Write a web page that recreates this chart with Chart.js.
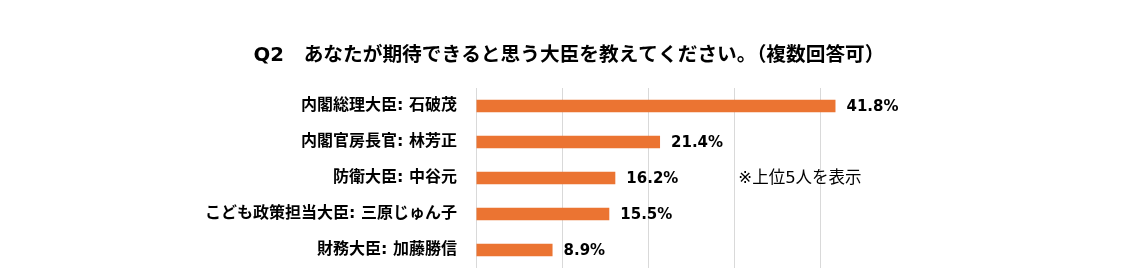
<!DOCTYPE html>
<html lang="ja">
<head>
<meta charset="utf-8">
<script src="https://cdn.jsdelivr.net/npm/chart.js@4"></script>
<style>
  html, body { margin: 0; padding: 0; background: #fff; }
  #wrap { width: 1136px; height: 268px; }
</style>
</head>
<body>
<div id="wrap"><canvas id="grafico"></canvas></div>
<script>
// Datos del gráfico
const titulo = 'Q2\u3000あなたが期待できると思う大臣を教えてください。（複数回答可）';
const categorias = ['内閣総理大臣: 石破茂', '内閣官房長官: 林芳正', '防衛大臣: 中谷元', 'こども政策担当大臣: 三原じゅん子', '財務大臣: 加藤勝信'];
const valores = [41.8, 21.4, 16.2, 15.5, 8.9];
const etiquetas = ['41.8%', '21.4%', '16.2%', '15.5%', '8.9%'];
const nota = '※上位5人を表示';

const fuente = '"DejaVu Sans", "Noto Sans CJK JP", sans-serif';

// Título centrado en todo el ancho, etiquetas de valor y nota
const pluginTextos = {
  id: 'textos',
  afterDatasetsDraw(chart) {
    const ctx = chart.ctx;
    const meta = chart.getDatasetMeta(0);
    ctx.save();
    ctx.fillStyle = '#000';
    ctx.textBaseline = 'middle';

    ctx.font = 'bold 19.7px ' + fuente;
    ctx.textAlign = 'center';
    ctx.fillText(titulo, chart.width / 2 + 1, 56);

    ctx.font = 'bold 15px ' + fuente;
    ctx.textAlign = 'left';
    meta.data.forEach(function(bar, i) {
      ctx.fillText(etiquetas[i], bar.x + 11, bar.y + 1);
    });
    // nota
    ctx.font = '16.5px ' + fuente;
    const x = chart.scales.x.getPixelForValue(30.5);
    const y = chart.scales.y.getPixelForValue(2);
    ctx.fillText(nota, x, y + 1);
    ctx.restore();
  }
};

const ctx = document.getElementById('grafico').getContext('2d');
new Chart(ctx, {
  type: 'bar',
  data: {
    labels: categorias,
    datasets: [{
      data: valores,
      backgroundColor: '#EB7432',
      barPercentage: 0.7,
      categoryPercentage: 0.5
    }]
  },
  options: {
    indexAxis: 'y',
    responsive: true,
    maintainAspectRatio: false,
    animation: false,
    layout: { padding: { left: 0, right: 230, top: 88, bottom: 0 } },
    plugins: {
      legend: { display: false },
      tooltip: { enabled: false },
      title: { display: false }
    },
    scales: {
      x: {
        min: 0,
        max: 50,
        ticks: { display: false, stepSize: 10 },
        grid: {
          drawTicks: false,
          color: function(c) { return c.tick && c.tick.value === 50 ? 'rgba(0,0,0,0)' : '#d9d9d9'; }
        },
        border: { display: false },
        afterFit: function(scale) { scale.height = 0; }
      },
      y: {
        grid: { display: false, drawTicks: false },
        border: { display: true, color: '#d9d9d9' },
        ticks: {
          color: '#000',
          padding: 19,
          font: { family: fuente, size: 16, weight: 'bold' }
        },
        afterFit: function(scale) {
          scale.width = 476;
          // quitar el relleno vertical que reserva la escala
          scale.paddingTop = 0;
          scale.paddingBottom = 0;
        }
      }
    }
  },
  plugins: [pluginTextos]
});
</script>
</body>
</html>
